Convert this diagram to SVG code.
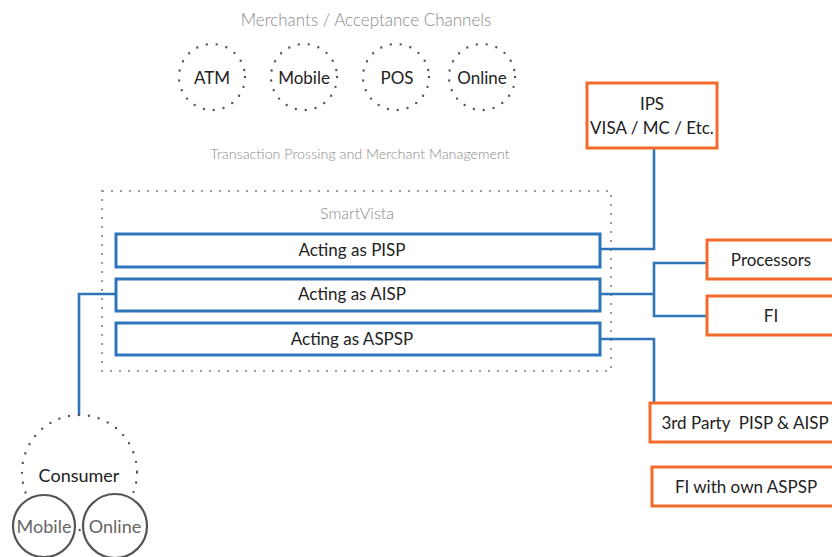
<svg xmlns="http://www.w3.org/2000/svg" width="832" height="557" viewBox="0 0 832 557">
<defs>
<style>
.t{font-family:Lato,"Liberation Sans",sans-serif;fill:#222;text-anchor:middle;white-space:pre}
.g{font-family:Lato,"Liberation Sans",sans-serif;fill:#8a8a8a;text-anchor:middle;font-weight:300}
.dc{fill:none;stroke:#555;stroke-width:2.4;stroke-linecap:round;stroke-dasharray:0 10}
.act{fill:#fff;stroke:#2f75bb;stroke-width:3}
.org{fill:#fff;stroke:#f26b2a;stroke-width:3}
.con{fill:none;stroke:#2f75bb;stroke-width:2.6}
.sc{fill:#fff;stroke:#555;stroke-width:2.2}
</style>
</defs>
<rect width="832" height="557" fill="#fff"/>
<text class="g" x="366" y="26" font-size="17">Merchants / Acceptance Channels</text>
<g id="atm"><circle class="dc" cx="212" cy="77" r="33"/><text class="t" x="212" y="84" font-size="17">ATM</text></g>
<g id="mobile-m"><circle class="dc" cx="304" cy="77" r="33"/><text class="t" x="304" y="84" font-size="17">Mobile</text></g>
<g id="pos"><circle class="dc" cx="396" cy="77" r="33"/><text class="t" x="397" y="84" font-size="17">POS</text></g>
<g id="online-m"><circle class="dc" cx="482" cy="77" r="33"/><text class="t" x="482" y="84" font-size="17">Online</text></g>
<text class="g" x="360" y="159" font-size="14.3">Transaction Prossing and Merchant Management</text>
<g id="smartvista">
<rect x="102" y="191" width="509" height="180" fill="none" stroke="#9a9a9a" stroke-width="2" stroke-dasharray="2 7"/>
<text class="g" x="357" y="219" font-size="16">SmartVista</text>
</g>
<g id="connectors">
<polyline class="con" points="600,249 654,249 654,148"/>
<polyline class="con" points="600,294 654,294"/>
<polyline class="con" points="707,263 654,263 654,316 707,316"/>
<polyline class="con" points="600,339 654,339 654,403"/>
<polyline class="con" points="116,294 79,294 79,415"/>
</g>
<g id="pisp"><rect class="act" x="116" y="234" width="484" height="33"/><text class="t" x="352" y="256" font-size="17">Acting as PISP</text></g>
<g id="aisp"><rect class="act" x="116" y="279" width="484" height="32"/><text class="t" x="352" y="300" font-size="17">Acting as AISP</text></g>
<g id="aspsp"><rect class="act" x="116" y="323" width="484" height="32"/><text class="t" x="352" y="345" font-size="17">Acting as ASPSP</text></g>
<g id="ips"><rect class="org" x="587" y="83" width="130" height="65"/><text class="t" x="652" y="110" font-size="17">IPS</text><text class="t" x="652" y="134" font-size="17">VISA / MC / Etc.</text></g>
<g id="processors"><rect class="org" x="707" y="240" width="135" height="39"/><text class="t" x="771" y="266" font-size="17">Processors</text></g>
<g id="fi"><rect class="org" x="707" y="296" width="135" height="39"/><text class="t" x="771" y="322" font-size="17">FI</text></g>
<g id="third-party"><rect class="org" x="650" y="403" width="192" height="39"/><text class="t" x="745" y="429" font-size="17">3rd Party  PISP &amp; AISP</text></g>
<g id="fi-own"><rect class="org" x="652" y="467" width="190" height="39"/><text class="t" x="746" y="493" font-size="17">FI with own ASPSP</text></g>
<g id="consumer">
<circle class="dc" cx="79.5" cy="472.5" r="57.5" stroke-dasharray="0 9"/>
<text class="t" x="79" y="482" font-size="18">Consumer</text>
</g>
<g id="mobile-c"><circle class="sc" cx="44" cy="526" r="31"/><text class="t" x="44" y="533" font-size="18" style="fill:#666">Mobile</text></g>
<g id="online-c"><circle class="sc" cx="115" cy="526" r="32"/><text class="t" x="115" y="533" font-size="18" style="fill:#666">Online</text></g>
</svg>
